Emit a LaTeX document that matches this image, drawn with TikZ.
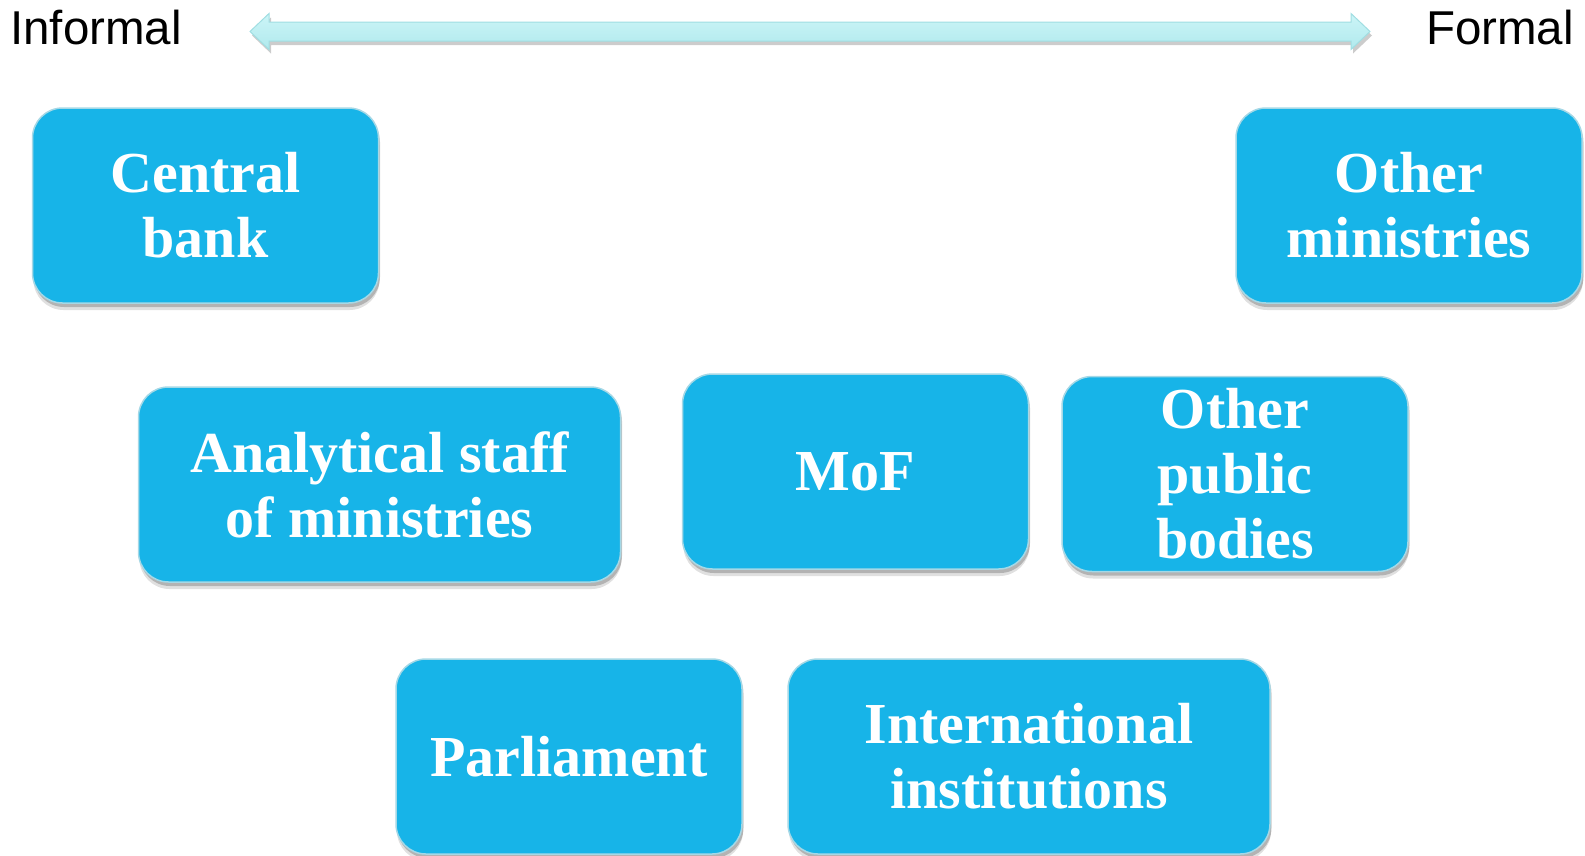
\documentclass[tikz,border=0pt]{standalone}
\usepackage{fontspec}
\setmainfont{Liberation Serif}
\newfontfamily\polefont{Liberation Sans}
\usetikzlibrary{shadows}
\definecolor{boxblue}{RGB}{23,180,232}
\definecolor{boxrim}{RGB}{165,216,230}
\definecolor{axistop}{RGB}{204,245,247}
\definecolor{axisbottom}{RGB}{176,233,237}
\definecolor{axisrim}{RGB}{160,222,226}
\tikzset{
    actor/.style={rounded corners=30pt, fill=boxblue, draw=boxrim, line width=1.5pt,
        text=white, font=\fontsize{58}{65}\selectfont\bfseries, align=center,
        minimum width=346pt, minimum height=195pt, inner sep=0pt,
        drop shadow={shadow xshift=1pt, shadow yshift=-7pt, opacity=0.12, fill=black},
        drop shadow={shadow xshift=1.5pt, shadow yshift=-4pt, opacity=0.2, fill=black}},
    wideactor/.style={actor, minimum width=482pt},
    pole/.style={font=\polefont\fontsize{47.5}{52}\selectfont, inner sep=0pt},
    axis/.style={draw=axisrim, line width=1pt, top color=axistop, bottom color=axisbottom,
        drop shadow={shadow xshift=2pt, shadow yshift=-4pt, opacity=0.2, fill=black}},
}
\begin{document}
\begin{tikzpicture}[x=1pt,y=-1pt]
    \useasboundingbox (0,0) rectangle (1585,855);
    % informal -- formal scale
    \node[pole, anchor=base west] (informal) at (10,44.5) {Informal};
    \node[pole, anchor=base east] (formal) at (1574,44.5) {Formal};
    \coordinate (lefttip) at (250,31.5);
    \coordinate (righttip) at (1370,31.5);
    \path[axis] (lefttip) -- (269,13.5) -- (269,22) -- (1351,22) -- (1351,13.5)
        -- (righttip) -- (1351,49.5) -- (1351,41) -- (269,41) -- (269,49.5) -- cycle;
    % actors
    \node[actor] (cb) at (205.5,205.5) {Central\\bank};
    \node[actor] (om) at (1409,205.5) {Other\\ministries};
    \node[wideactor] (staff) at (379.5,484.5) {Analytical staff\\of ministries};
    \node[actor] (mof) at (855.5,471.5) {MoF};
    \node[actor] (opb) at (1235,474) {Other\\public\\bodies};
    \node[actor] (parl) at (569,756.5) {Parliament};
    \node[wideactor] (intl) at (1029,756.5) {International\\institutions};
\end{tikzpicture}
\end{document}
